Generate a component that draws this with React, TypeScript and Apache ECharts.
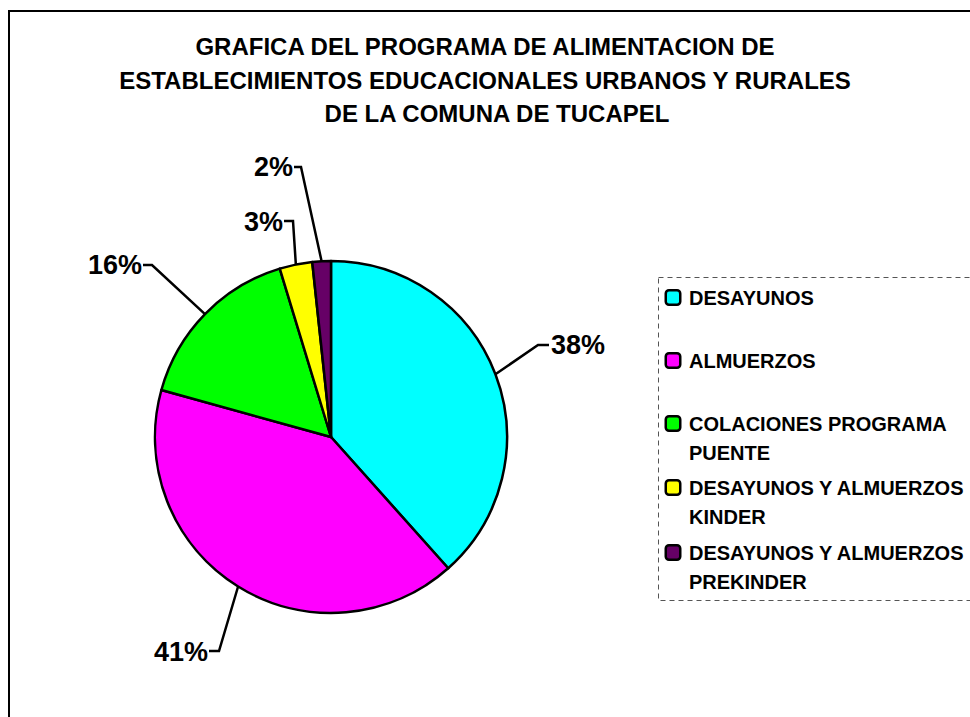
import React, { useEffect, useRef } from "react";
import * as echarts from "echarts";

const TITLE_LINES = [
  "GRAFICA DEL PROGRAMA DE ALIMENTACION DE",
  "ESTABLECIMIENTOS EDUCACIONALES URBANOS Y RURALES",
  "DE LA COMUNA DE TUCAPEL",
];

const CATEGORIES = [
  "DESAYUNOS",
  "ALMUERZOS",
  "COLACIONES PROGRAMA PUENTE",
  "DESAYUNOS Y ALMUERZOS KINDER",
  "DESAYUNOS Y ALMUERZOS PREKINDER",
];

const LEGEND_LINES: string[][] = [
  ["DESAYUNOS"],
  ["ALMUERZOS"],
  ["COLACIONES PROGRAMA", "PUENTE"],
  ["DESAYUNOS Y ALMUERZOS", "KINDER"],
  ["DESAYUNOS Y ALMUERZOS", "PREKINDER"],
];

const VALUES = [38.4, 40.9, 16.0, 3.0, 1.7];

const COLORS = ["#00FFFF", "#FF00FF", "#00FF00", "#FFFF00", "#660066"];

// label placement (layout, Excel-like leader lines)
const LABEL_LAYOUT = [
  { x: 551, y: 345, align: "left", joint: [538, 345], end: [549, 345] },
  { x: 208, y: 652, align: "right", joint: [219, 651], end: [209, 651] },
  { x: 142, y: 265, align: "right", joint: [152, 265], end: [143, 265] },
  { x: 283, y: 222, align: "right", joint: [293, 221], end: [284, 221] },
  { x: 293, y: 167, align: "right", joint: [301, 167], end: [294, 167] },
];

// first-line centre of each legend entry
const LEGEND_ROW_CENTERS = [299, 362, 425, 489, 554];

const FONT = "Arial, 'Liberation Sans', Helvetica, sans-serif";

export default function App() {
  const ref = useRef<HTMLDivElement>(null);

  useEffect(() => {
    if (!ref.current) return;
    const chart = echarts.init(ref.current, null, { renderer: "svg" });

    const rich: any = {
      t: {
        fontSize: 20,
        fontWeight: "bold",
        fontFamily: FONT,
        color: "#000",
        lineHeight: 29,
        verticalAlign: "middle",
      },
      g: { width: 10, lineHeight: 29 },
      s: { width: 22, lineHeight: 29 },
    };
    COLORS.forEach((c, i) => {
      rich["k" + i] = {
        width: 12,
        height: 12,
        backgroundColor: c,
        borderColor: "#000",
        borderWidth: 2.5,
        borderRadius: 2,
        lineHeight: 29,
        verticalAlign: "middle",
      };
    });

    const titleCenters = [485, 485, 497];
    const titleTops = [34, 68, 101];

    chart.setOption({
      animation: false,
      backgroundColor: "#fff",
      title: TITLE_LINES.map((t, i) => ({
        text: t,
        left: titleCenters[i],
        top: titleTops[i],
        textAlign: "center",
        padding: 0,
        textStyle: {
          fontSize: 24,
          fontWeight: "bold",
          fontFamily: FONT,
          color: "#000",
          lineHeight: 24,
        },
      })),
      graphic: [
        {
          type: "rect",
          shape: { x: 9, y: 11, width: 1200, height: 1000 },
          style: { fill: "none", stroke: "#000", lineWidth: 2 },
          silent: true,
        },
        {
          type: "rect",
          shape: { x: 658.5, y: 277.5, width: 400, height: 323 },
          style: { fill: "none", stroke: "#555", lineWidth: 1, lineDash: [5, 4] },
          silent: true,
        },
      ],
      legend: CATEGORIES.map((name, i) => ({
        orient: "vertical",
        left: 662,
        top: LEGEND_ROW_CENTERS[i] - 11.5,
        padding: 0,
        icon: "none",
        itemWidth: 0,
        itemHeight: 0,
        selectedMode: false,
        data: [name],
        formatter: (n: string) => {
          const k = CATEGORIES.indexOf(n);
          const lines = LEGEND_LINES[k];
          let s = `{k${k}|}{g|}{t|${lines[0]}}`;
          if (lines[1]) s += `\n{s|}{t|${lines[1]}}`;
          return s;
        },
        textStyle: { rich },
      })),
      series: [
        {
          type: "pie",
          center: [331, 437],
          radius: 176,
          startAngle: 90,
          clockwise: true,
          avoidLabelOverlap: false,
          silent: true,
          itemStyle: { borderColor: "#000", borderWidth: 2.5 },
          label: {
            show: true,
            position: "outside",
            formatter: (p: any) => `${Math.round(p.percent)}%`,
            fontSize: 27,
            fontWeight: "bold",
            fontFamily: FONT,
            color: "#000",
          },
          labelLine: {
            show: true,
            length: 20,
            length2: 10,
            lineStyle: { color: "#000", width: 2.5 },
          },
          labelLayout: (params: any) => {
            const p = LABEL_LAYOUT[params.dataIndex];
            const anchor =
              params.labelLinePoints && params.labelLinePoints[0]
                ? params.labelLinePoints[0]
                : p.joint;
            return {
              x: p.x,
              y: p.y,
              align: p.align,
              verticalAlign: "middle",
              labelLinePoints: [anchor, p.joint, p.end],
            };
          },
          data: CATEGORIES.map((name, i) => ({
            name,
            value: VALUES[i],
            itemStyle: { color: COLORS[i] },
          })),
        },
      ],
    });

    return () => chart.dispose();
  }, []);

  return (
    <div
      ref={ref}
      style={{
        position: "fixed",
        left: 0,
        top: 0,
        width: 970,
        height: 717,
        background: "#fff",
      }}
    />
  );
}
